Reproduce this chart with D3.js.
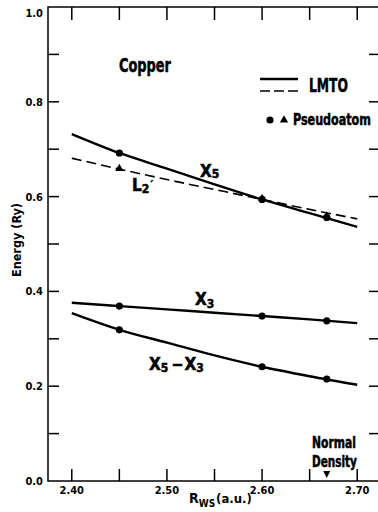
<!DOCTYPE html>
<html>
<head>
<meta charset="utf-8">
<script src="https://cdn.jsdelivr.net/npm/d3@7"></script>
<style>
  body { margin: 0; background: #fff; }
  svg { display: block; }
  text { font-family: "Liberation Sans Narrow", "DejaVu Sans Condensed", "Liberation Sans", sans-serif; font-weight: bold; fill: #000; }
  text.heavy { stroke: #000; stroke-width: 0.5px; }
</style>
</head>
<body>
<div id="chart"></div>
<script>
const rws = [2.40, 2.45, 2.50, 2.55, 2.60, 2.65, 2.70];
const lmtoX5 = [0.732, 0.692, 0.659, 0.626, 0.594, 0.565, 0.536];
const lmtoL2 = [0.681, 0.658, 0.636, 0.615, 0.594, 0.573, 0.553];
const lmtoX3 = [0.376, 0.369, 0.362, 0.355, 0.348, 0.341, 0.333];
const lmtoDiff = [0.354, 0.319, 0.292, 0.265, 0.241, 0.221, 0.203];

// pseudoatom points
const paR = [2.45, 2.60, 2.668];
const paX5 = [0.692, 0.594, 0.556];
const paL2 = [0.659, 0.596, 0.559];
const paX3 = [0.369, 0.348, 0.338];
const paDiff = [0.319, 0.241, 0.215];

const xTicks = [2.40, 2.45, 2.50, 2.55, 2.60, 2.65, 2.70];
const xTickLabels = ["2.40", "2.50", "2.60", "2.70"];
const yTicks = [0, 0.1, 0.2, 0.3, 0.4, 0.5, 0.6, 0.7, 0.8, 0.9, 1.0];
const yTickLabels = ["0.0", "0.2", "0.4", "0.6", "0.8", "1.0"];
const normalDensity = 2.668;

const W = 378, H = 512;
const svg = d3.select("#chart").append("svg").attr("width", W).attr("height", H);

const x = d3.scaleLinear().domain([2.375, 2.725]).range([48, 381]);
const y = d3.scaleLinear().domain([0, 1]).range([481, 7]);

// text squeezed to a given width (condensed look), anchored at its left edge
function fitText(px, py, str, size, width) {
  const t = svg.append("text").attr("class", "heavy").style("font-size", size + "px").text(str);
  const w = t.node().getComputedTextLength();
  t.attr("transform", `translate(${px},${py}) scale(${width / w},1)`);
  return t;
}

// frame
svg.append("rect")
  .attr("x", x(2.375)).attr("y", y(1))
  .attr("width", x(2.725) - x(2.375)).attr("height", y(0) - y(1))
  .attr("fill", "none").attr("stroke", "#000").attr("stroke-width", 1.5);

// inward ticks
const tk = svg.append("g").attr("stroke", "#000").attr("stroke-width", 1.5);
xTicks.forEach(v => {
  tk.append("line").attr("x1", x(v)).attr("x2", x(v)).attr("y1", y(0)).attr("y2", y(0) - 12);
  tk.append("line").attr("x1", x(v)).attr("x2", x(v)).attr("y1", y(1)).attr("y2", y(1) + 13);
});
yTicks.forEach(v => {
  if (v === 0 || v === 1) return;
  tk.append("line").attr("x1", x(2.375)).attr("x2", x(2.375) + 11).attr("y1", y(v)).attr("y2", y(v));
  tk.append("line").attr("x1", x(2.725)).attr("x2", x(2.725) - 12).attr("y1", y(v)).attr("y2", y(v));
});

// tick labels
svg.selectAll(".xl").data(xTickLabels).enter().append("text")
  .attr("x", d => x(+d)).attr("y", 494)
  .attr("text-anchor", "middle").style("font-size", "11px")
  .text(d => d);
svg.selectAll(".yl").data(yTickLabels).enter().append("text")
  .attr("x", 43).attr("y", d => y(+d) + (+d === 1 ? 10 : 4))
  .attr("text-anchor", "end").style("font-size", "11px")
  .text(d => d);

// axis titles
svg.append("text")
  .attr("transform", "translate(21,240) rotate(-90)")
  .attr("text-anchor", "middle").style("font-size", "12px")
  .attr("textLength", 74).attr("lengthAdjust", "spacingAndGlyphs")
  .text("Energy (Ry)");

const xt = svg.append("text").attr("x", 189).attr("y", 503).style("font-size", "14px");
xt.append("tspan").text("R");
xt.append("tspan").attr("dy", 4).style("font-size", "10px").text("WS");
xt.append("tspan").attr("dy", -4).attr("dx", 1).style("font-size", "13px").text("(a.u.)");

// curves
const line = d3.line().x((d, i) => x(rws[i])).y(d => y(d)).curve(d3.curveMonotoneX);
const curves = svg.append("g").attr("fill", "none").attr("stroke", "#000");
curves.append("path").attr("d", line(lmtoL2)).attr("stroke-width", 1.6).attr("stroke-dasharray", "10,5");
[lmtoX5, lmtoX3, lmtoDiff].forEach(s => {
  curves.append("path").attr("d", line(s)).attr("stroke-width", 2.4);
});

// pseudoatom markers
const tri = d3.symbol().type(d3.symbolTriangle).size(30);
svg.selectAll(".tri").data(paL2).enter().append("path")
  .attr("d", tri).attr("transform", (d, i) => `translate(${x(paR[i])},${y(d)})`);
[paX5, paX3, paDiff].forEach(s => {
  svg.selectAll(null).data(s).enter().append("circle")
    .attr("cx", (d, i) => x(paR[i])).attr("cy", d => y(d)).attr("r", 3.6);
});

// curve labels
function label(px, py, parts) {
  const t = svg.append("text").attr("class", "heavy").attr("x", px).attr("y", py);
  parts.forEach(p => {
    t.append("tspan").attr("dx", p.dx || 0).attr("dy", p.dy || 0).style("font-size", p.size + "px").text(p.t);
  });
}
label(200, 177, [{t: "X", size: 17}, {t: "5", size: 12, dy: 1}]);
label(132, 191, [{t: "L", size: 17}, {t: "2", size: 12, dy: 2}]);
svg.append("text").attr("x", 150).attr("y", 190)
  .style("font-family", "DejaVu Sans").style("font-size", "14px").text("\u2032");
label(195, 305, [{t: "X", size: 17}, {t: "3", size: 12, dy: 3}]);
label(149, 370, [{t: "X", size: 17}, {t: "5", size: 12, dy: 2}, {t: "\u2212", size: 16, dy: -2, dx: 3},
  {t: "X", size: 17, dx: 1}, {t: "3", size: 12, dy: 2}]);

// title
fitText(119, 72, "Copper", 20, 52);

// legend
const lg = svg.append("g").attr("stroke", "#000");
lg.append("line").attr("x1", 260).attr("x2", 298).attr("y1", 79).attr("y2", 79).attr("stroke-width", 2.4);
lg.append("line").attr("x1", 260).attr("x2", 298).attr("y1", 91).attr("y2", 91).attr("stroke-width", 1.6).attr("stroke-dasharray", "10,4");
fitText(309, 92, "LMTO", 20, 39);
svg.append("circle").attr("cx", 270).attr("cy", 120).attr("r", 3.6);
svg.append("path").attr("d", tri).attr("transform", "translate(284,120)");
fitText(293, 125, "Pseudoatom", 16, 78);

// normal density marker
fitText(312, 448, "Normal", 15, 44);
fitText(312, 467, "Density", 15, 45);
const nx = x(normalDensity);
svg.append("path").attr("d", `M${nx - 3.5},471 L${nx + 3.5},471 L${nx},478 Z`);
</script>
</body>
</html>
